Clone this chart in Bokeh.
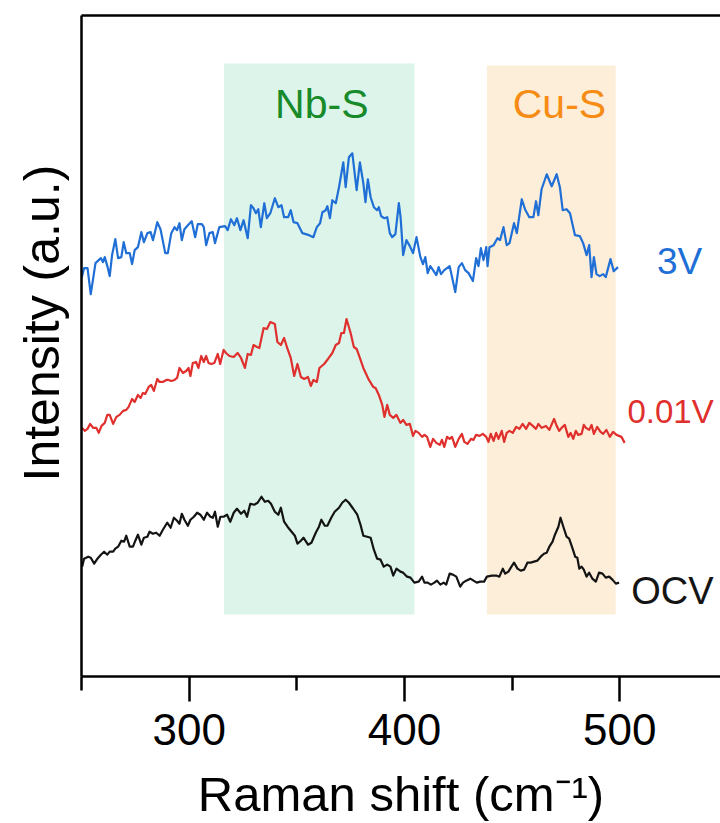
from bokeh.plotting import figure
from bokeh.models import ColumnDataSource, FixedTicker, LinearAxis, Range1d, Title
from bokeh.core.properties import value
from bokeh.embed import file_html
from bokeh.resources import INLINE

FONT = "Liberation Sans"

# ---------------- data ----------------
x_3v = [250.0, 251.2, 252.8, 254.3, 256.5, 259.0, 260.0, 260.8, 262.0, 263.1, 264.2, 265.7, 267.0, 268.5,
        269.6, 270.8, 272.4, 273.5, 274.7, 276.2, 277.8, 279.0, 280.6, 282.1, 283.2, 285.2, 286.7, 288.9,
        290.1, 291.7, 293.2, 294.4, 295.5, 296.6, 297.8, 299.4, 301.2, 302.8, 304.0, 305.9, 306.8, 307.9,
        309.4, 311.0, 312.0, 314.0, 316.7, 317.9, 319.4, 321.0, 322.2, 323.8, 325.3, 327.2, 328.7, 329.9,
        331.0, 332.1, 333.3, 334.9, 336.1, 337.7, 339.8, 341.4, 342.9, 344.1, 346.0, 347.2, 348.5, 350.3,
        352.6, 355.7, 357.7, 359.3, 360.8, 361.9, 363.4, 364.2, 365.4, 366.5, 368.1, 369.6, 371.6, 372.7,
        374.2, 375.8, 377.8, 379.3, 380.9, 381.9, 383.0, 384.3, 385.8, 387.3, 388.1, 389.2, 390.7, 392.0,
        393.2, 394.3, 395.8, 397.4, 398.2, 399.4, 400.9, 402.5, 404.0, 405.6, 407.4, 408.6, 409.7, 410.8,
        412.0, 413.3, 414.8, 415.9, 417.0, 418.5, 421.0, 422.1, 423.6, 425.2, 426.7, 428.2, 429.8, 431.8,
        433.3, 434.4, 435.5, 436.7, 438.0, 438.6, 439.5, 441.4, 443.2, 444.4, 446.0, 447.5, 448.8, 450.9,
        452.2, 454.5, 456.0, 458.0, 459.9, 461.1, 462.2, 463.7, 466.1, 468.4, 470.7, 472.2, 473.5, 475.3,
        476.9, 479.2, 481.5, 483.0, 484.6, 485.8, 486.9, 488.0, 489.2, 490.7, 492.3, 493.5, 495.7, 497.2,
        499.2]
y_3v = [402, 412, 412, 386, 417, 422, 418, 423, 414, 404, 425, 441, 422, 423,
        438, 427, 427, 416, 430, 433, 448, 438, 447, 448, 440, 458, 451, 427,
        427, 447, 453, 450, 457, 440, 451, 455, 459, 443, 456, 456, 453, 435,
        447, 448, 437, 453, 454, 450, 461, 455, 462, 450, 460, 442, 475, 472,
        467, 471, 453, 477, 462, 467, 482, 473, 475, 463, 463, 470, 458, 457,
        447, 445, 443, 453, 457, 468, 470, 474, 462, 480, 477, 493, 518, 493,
        523, 527, 490, 518, 497, 478, 501, 483, 473, 470, 473, 464, 462, 463,
        447, 443, 446, 477, 463, 425, 440, 434, 427, 443, 423, 416, 423, 407,
        414, 410, 405, 413, 406, 410, 414, 403, 388, 413, 417, 410, 407, 399,
        422, 414, 432, 420, 433, 414, 433, 435, 442, 440, 453, 435, 437, 457,
        447, 481, 471, 463, 463, 479, 465, 491, 506, 494, 506, 493, 470, 471,
        467, 445, 444, 437, 425, 435, 403, 423, 406, 404, 406, 403, 421, 409,
        413]

x_001v = [250.3, 251.5, 252.8, 254.0, 255.4, 256.9, 258.0, 259.3, 260.8, 262.0, 263.1, 264.7, 266.2, 267.7,
          269.3, 270.8, 271.9, 273.5, 274.7, 276.2, 277.5, 278.5, 279.6, 281.2, 282.4, 283.6, 285.2, 286.3,
          287.8, 289.4, 290.4, 291.7, 293.2, 294.4, 295.5, 297.1, 298.6, 299.7, 300.6, 301.7, 303.2, 304.3,
          305.6, 306.8, 307.9, 309.0, 310.2, 311.7, 313.3, 314.4, 316.0, 317.1, 318.7, 320.7, 322.5, 324.1,
          325.9, 327.2, 328.7, 329.9, 331.5, 332.6, 334.6, 336.1, 337.7, 339.8, 341.0, 342.6, 344.1, 345.7,
          347.2, 348.8, 350.3, 351.9, 353.4, 355.2, 356.5, 357.7, 359.3, 360.5, 362.7, 364.5, 366.5, 368.1,
          369.6, 370.7, 371.9, 373.1, 375.0, 376.5, 377.8, 379.3, 380.9, 383.5, 385.5, 386.6, 388.1, 389.7,
          390.7, 392.0, 393.2, 394.8, 396.3, 398.1, 399.4, 400.9, 402.5, 404.0, 405.1, 406.6, 408.2, 409.3,
          410.5, 412.0, 413.3, 414.8, 416.4, 417.4, 418.5, 419.8, 421.0, 422.1, 423.6, 425.2, 426.7, 427.8,
          429.3, 430.9, 432.1, 433.3, 434.9, 436.4, 438.0, 439.0, 440.1, 441.4, 442.6, 443.7, 445.2, 446.3,
          447.5, 448.8, 450.3, 451.9, 453.4, 454.9, 456.5, 458.0, 459.6, 461.1, 462.2, 463.7, 465.7, 467.3,
          469.5, 470.7, 471.9, 473.0, 474.5, 476.1, 477.2, 478.4, 479.6, 480.7, 482.3, 483.3, 484.3, 485.8,
          486.9, 488.0, 489.5, 491.1, 492.3, 493.8, 495.4, 496.9, 498.5, 500.8, 502.3]
y_001v = [252, 249, 251, 256, 252, 252, 247, 254, 257, 265, 265, 256, 263, 265,
          269, 270, 273, 281, 278, 285, 282, 287, 286, 293, 295, 289, 301, 298,
          298, 300, 300, 299, 300, 302, 312, 307, 309, 312, 304, 317, 318, 312,
          324, 318, 324, 317, 316, 317, 326, 316, 330, 327, 324, 323, 327, 322,
          312, 326, 325, 335, 333, 332, 352, 351, 358, 356, 338, 335, 342, 331,
          322, 304, 316, 303, 301, 303, 294, 300, 298, 312, 316, 321, 327, 335,
          337, 347, 347, 361, 347, 333, 331, 322, 312, 300, 293, 292, 285, 275,
          263, 275, 265, 262, 265, 257, 260, 255, 256, 244, 249, 247, 243, 245,
          243, 233, 241, 237, 235, 240, 233, 243, 241, 243, 233, 241, 246, 238,
          236, 241, 240, 245, 244, 246, 243, 238, 246, 239, 247, 241, 249, 238,
          247, 249, 247, 253, 251, 256, 251, 257, 254, 251, 256, 252, 254, 250,
          261, 254, 249, 252, 255, 243, 247, 241, 249, 245, 246, 255, 252, 250,
          255, 246, 253, 248, 246, 250, 243, 248, 245, 243, 237]

x_ocv = [250.3, 251.2, 253.1, 254.3, 255.9, 257.4, 259.0, 260.5, 262.0, 263.1, 264.7, 265.7, 267.0, 268.5,
         269.8, 270.8, 272.4, 273.9, 275.0, 276.2, 277.8, 279.0, 280.6, 281.6, 283.2, 284.7, 286.3, 287.8,
         289.8, 291.4, 292.9, 294.4, 295.5, 296.6, 297.8, 299.4, 300.6, 302.2, 303.7, 305.2, 306.8, 308.3,
         309.9, 311.0, 312.0, 313.3, 314.5, 316.0, 317.6, 319.1, 320.7, 322.2, 324.1, 325.6, 326.9, 328.4,
         330.2, 331.8, 333.6, 335.2, 336.7, 338.0, 339.8, 341.4, 342.6, 344.1, 345.7, 347.2, 349.1, 350.3,
         351.9, 353.1, 355.2, 356.8, 358.8, 360.3, 361.4, 363.0, 364.2, 366.0, 367.6, 369.6, 371.1, 372.7,
         374.2, 376.2, 378.1, 379.6, 380.9, 382.7, 384.3, 385.8, 387.3, 388.9, 390.4, 392.0, 393.5, 394.8,
         396.3, 398.1, 399.4, 401.2, 402.8, 404.6, 406.6, 408.2, 409.3, 410.8, 412.3, 413.9, 415.1, 416.7,
         418.2, 419.4, 421.0, 422.5, 424.1, 425.9, 427.2, 428.7, 430.6, 432.1, 433.6, 435.2, 437.0, 438.3,
         440.6, 442.9, 444.1, 445.7, 446.8, 448.3, 449.4, 450.9, 452.5, 454.0, 455.6, 457.1, 458.6, 460.2,
         461.7, 463.3, 464.8, 466.1, 467.3, 468.8, 469.9, 471.5, 472.5, 473.8, 475.3, 476.5, 478.1, 479.3,
         480.3, 481.2, 482.3, 483.3, 484.6, 485.8, 487.3, 488.9, 490.4, 492.0, 493.5, 495.1, 496.6, 498.2,
         499.7]
y_ocv = [113, 121, 123, 122, 116, 121, 125, 128, 125, 128, 128, 131, 133, 139,
         138, 144, 133, 133, 139, 145, 135, 142, 143, 148, 146, 147, 144, 150,
         157, 152, 162, 159, 156, 166, 160, 154, 160, 163, 167, 165, 160, 167,
         163, 162, 168, 153, 163, 163, 165, 158, 167, 171, 166, 169, 163, 176,
         175, 177, 183, 178, 179, 176, 168, 165, 172, 158, 153, 149, 144, 136,
         139, 142, 135, 137, 147, 153, 160, 154, 154, 162, 168, 172, 177, 180,
         177, 171, 165, 155, 144, 143, 142, 130, 121, 120, 113, 115, 113, 104,
         111, 108, 107, 103, 102, 97, 98, 103, 97, 97, 95, 97, 99, 95,
         97, 95, 106, 105, 103, 93, 97, 99, 101, 99, 97, 98, 98, 103,
         104, 104, 103, 111, 106, 108, 112, 117, 111, 109, 110, 117, 117, 118,
         119, 123, 126, 127, 133, 138, 145, 153, 162, 153, 143, 141, 131, 123,
         122, 111, 113, 110, 103, 107, 101, 98, 107, 106, 102, 103, 100, 96,
         97]

series_colors = ["#1f6fd6", "#e0302e", "#141414"]

# shaded bands
band_names = ["Nb-S", "Cu-S"]
band_left = [316.2, 438.3]
band_right = [404.6, 498.1]
band_bottom = [65, 65]
band_top = [617, 615]
band_fill = ["#dcf4ea", "#fdeed9"]
band_text_color = ["#178a2a", "#f78c14"]
band_label_x = [361.6, 472.0]
band_label_y = [576, 576]

# curve labels
curve_names = ["3V", "0.01V", "OCV"]
curve_label_x = [527.8, 523.6, 524.5]
curve_label_y = [419, 268, 89]
curve_label_size = ["37px", "33px", "38px"]

x_major = [300, 400, 500]
x_minor = [250, 350, 450, 550]
x_tick_labels = ["300", "400", "500"]

y_title = "Intensity (a.u.)"

# ---------------- figure ----------------
p = figure(width=720, height=823, output_backend="svg", toolbar_location=None,
           x_range=Range1d(250, 546.8), y_range=Range1d(3, 665),
           min_border_left=80, min_border_right=0, min_border_top=15, min_border_bottom=146)
p.outline_line_color = None
p.grid.visible = False
p.background_fill_color = "white"
p.border_fill_color = "white"

p.quad(left=band_left, right=band_right, bottom=band_bottom, top=band_top,
       fill_color=band_fill, line_color=None)

for xs, ys, c in zip([x_ocv, x_001v, x_3v], [y_ocv, y_001v, y_3v], series_colors[::-1]):
    p.line(xs, ys, line_color=c, line_width=2.2, line_join="round")

band_src = ColumnDataSource(dict(x=band_label_x, y=band_label_y, t=band_names, c=band_text_color))
p.text(x="x", y="y", text="t", text_color="c", source=band_src, text_font=value(FONT),
       text_font_size="41px", text_align="center", text_baseline="middle")

curve_src = ColumnDataSource(dict(x=curve_label_x, y=curve_label_y, t=curve_names,
                                  c=series_colors, s=curve_label_size))
p.text(x="x", y="y", text="t", text_color="c", text_font_size="s", source=curve_src,
       text_font=value(FONT), text_align="center", text_baseline="middle")

# bottom axis
xa = p.xaxis[0]
xa.ticker = FixedTicker(ticks=x_major, minor_ticks=x_minor)
xa.major_label_overrides = {t: l for t, l in zip(x_major, x_tick_labels)}
xa.axis_line_width = 2.5
xa.axis_line_color = "black"
xa.major_tick_line_width = 2.5
xa.minor_tick_line_width = 2.5
xa.major_tick_in = 0
xa.major_tick_out = 25
xa.minor_tick_in = 0
xa.minor_tick_out = 14
xa.major_label_standoff = 12
xa.major_label_text_font = FONT
xa.major_label_text_font_size = "44px"
xa.major_label_text_color = "black"
xa.axis_label = "Raman shift (cm\u207b\u00b9)"
xa.axis_label_text_font = FONT
xa.axis_label_text_font_style = "normal"
xa.axis_label_text_font_size = "49px"
xa.axis_label_text_color = "black"
xa.axis_label_standoff = 19

# left axis: line only
ya = p.yaxis[0]
ya.ticker = FixedTicker(ticks=[])
ya.axis_line_width = 2.5
ya.axis_line_color = "black"
ya.major_tick_out = 0
ya.major_tick_in = 0
ya.minor_tick_out = 0
ya.minor_tick_in = 0
ya.major_label_standoff = 0

# y title in the left panel, placed a little above centre as in the source
p.add_layout(Title(text=y_title, align="left", offset=195, standoff=23,
                   text_font=FONT, text_font_size="50px", text_font_style="normal",
                   text_color="black"), "left")

# top border line
top = LinearAxis(ticker=FixedTicker(ticks=[]), axis_line_width=2.5, axis_line_color="black",
                 major_tick_out=0, major_tick_in=0, minor_tick_out=0, minor_tick_in=0,
                 major_label_standoff=0)
p.add_layout(top, "above")

open("out.html", "w").write(file_html(p, INLINE))
